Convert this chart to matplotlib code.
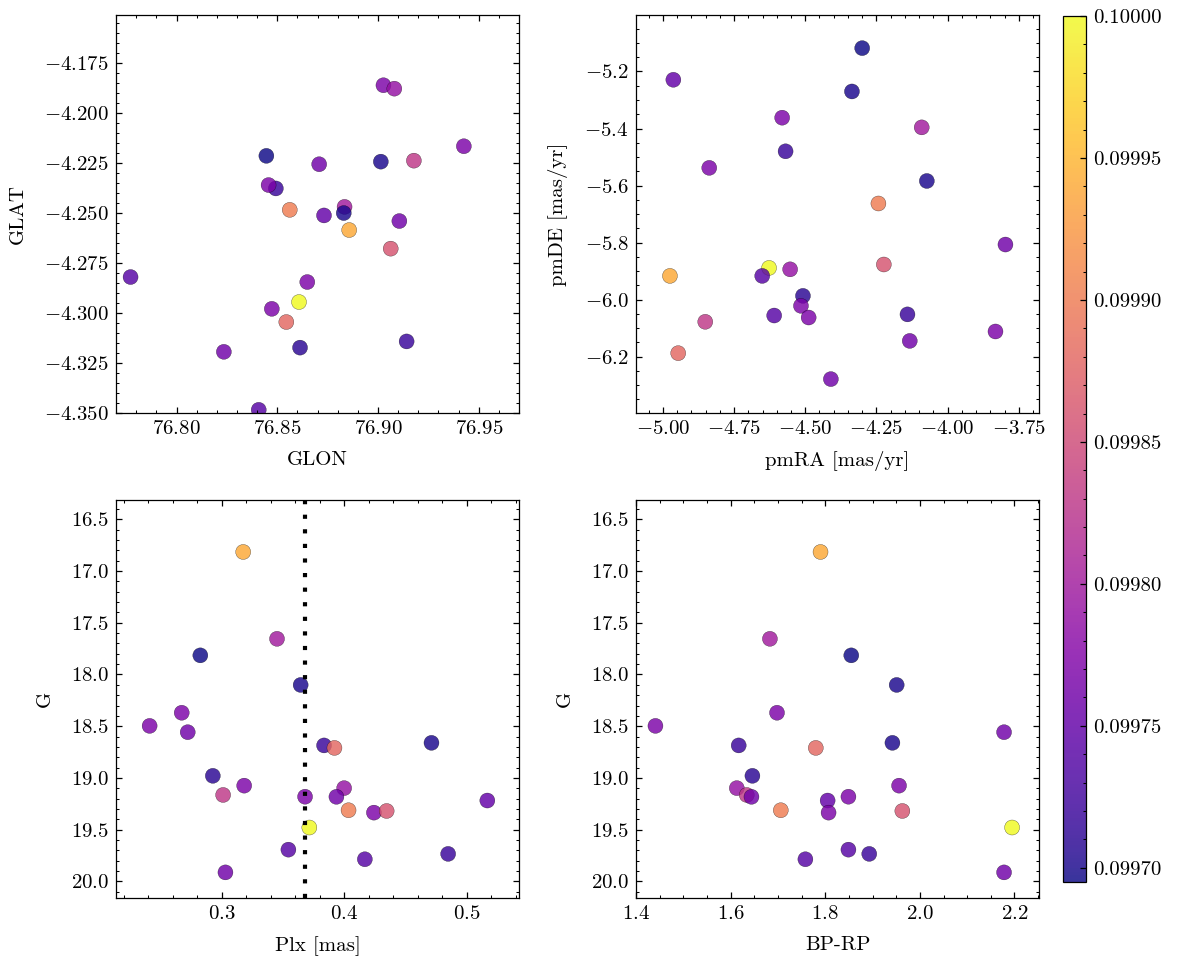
import numpy as np
import matplotlib
matplotlib.use('Agg')
import matplotlib.pyplot as plt
from matplotlib.ticker import MultipleLocator, AutoMinorLocator, FormatStrFormatter

# Member stars (one entry per star)
glon = [76.8857, 76.8834, 76.8446, 76.9014, 76.9027, 76.9426, 76.8708, 76.8493, 76.8545,
        76.8830, 76.8613, 76.8457, 76.9081, 76.9178, 76.9106, 76.8649, 76.8732, 76.8562,
        76.8473, 76.9063, 76.8608, 76.8408, 76.9142, 76.7772, 76.8235]
glat = [-4.2585, -4.2469, -4.2214, -4.2243, -4.1861, -4.2166, -4.2256, -4.2377, -4.3045,
        -4.2500, -4.3173, -4.2360, -4.1878, -4.2238, -4.2540, -4.2845, -4.2512, -4.2484,
        -4.2979, -4.2678, -4.2945, -4.3484, -4.3142, -4.2820, -4.3194]
pmra = [-4.975, -4.091, -4.300, -4.336, -4.581, -4.837, -3.797, -4.569, -4.946,
        -4.073, -4.508, -4.515, -4.553, -4.851, -4.410, -4.488, -4.963, -4.243,
        -3.832, -4.224, -4.627, -4.651, -4.141, -4.609, -4.133]
pmde = [-5.917, -5.396, -5.118, -5.270, -5.362, -5.538, -5.807, -5.480, -6.188,
        -5.584, -5.987, -6.022, -5.894, -6.078, -6.279, -6.063, -5.229, -5.663,
        -6.112, -5.877, -5.889, -5.917, -6.052, -6.056, -6.145]
plx = [0.3175, 0.3451, 0.2825, 0.3644, 0.2673, 0.2411, 0.2722, 0.3835, 0.3920,
       0.4712, 0.2927, 0.3183, 0.3999, 0.3011, 0.3936, 0.3680, 0.5168, 0.4035,
       0.4242, 0.4346, 0.3715, 0.3544, 0.4848, 0.4168, 0.3030]
gmag = [16.815, 17.655, 17.815, 18.101, 18.370, 18.497, 18.558, 18.686, 18.710,
        18.661, 18.980, 19.075, 19.099, 19.165, 19.183, 19.182, 19.219, 19.313,
        19.336, 19.320, 19.480, 19.694, 19.735, 19.787, 19.914]
bprp = [1.790, 1.683, 1.855, 1.951, 1.698, 1.441, 2.178, 1.617, 1.780,
        1.942, 1.646, 1.956, 1.613, 1.634, 1.644, 1.849, 1.805, 1.706,
        1.807, 1.963, 2.195, 1.849, 1.893, 1.758, 2.178]
prob = [0.09994, 0.09980, 0.099695, 0.09970, 0.09977, 0.09977, 0.09976, 0.09972, 0.09988,
        0.09970, 0.09971, 0.09977, 0.09979, 0.09983, 0.09976, 0.09977, 0.09975, 0.09990,
        0.09977, 0.09986, 0.10000, 0.09974, 0.09972, 0.09974, 0.09976]

plx_cut = 0.368

plt.rcParams.update({
    'font.family': 'serif',
    'font.serif': ['cmr10'],
    'mathtext.fontset': 'cm',
    'axes.formatter.use_mathtext': True,
    'font.size': 10,
    'axes.linewidth': 0.6,
    'axes.labelpad': 6,
    'xtick.direction': 'in',
    'ytick.direction': 'in',
    'xtick.top': True,
    'ytick.right': True,
    'xtick.major.size': 3,
    'ytick.major.size': 3,
    'xtick.minor.size': 1.5,
    'ytick.minor.size': 1.5,
    'xtick.major.width': 0.6,
    'ytick.major.width': 0.6,
    'xtick.minor.width': 0.5,
    'ytick.minor.width': 0.5,
    'xtick.minor.visible': True,
    'ytick.minor.visible': True,
})

fig = plt.figure(figsize=(1177 / 150, 965 / 150), dpi=150)
w, h = 0.3424, 0.4124
ax1 = fig.add_axes([0.0986, 0.5720, w, h])
ax2 = fig.add_axes([0.5404, 0.5720, w, h])
ax3 = fig.add_axes([0.0986, 0.0694, w, h])
ax4 = fig.add_axes([0.5404, 0.0694, w, h])
cax = fig.add_axes([0.9031, 0.0860, 0.0195, 0.8974])

kw = dict(c=prob, cmap='plasma', s=52, alpha=0.82, edgecolors='k', linewidths=0.15)

sc = ax1.scatter(glon, glat, **kw)
ax1.set_xlim(76.77, 76.97)
ax1.set_ylim(-4.35, -4.151)
ax1.xaxis.set_major_locator(MultipleLocator(0.05))
ax1.yaxis.set_major_locator(MultipleLocator(0.025))
ax1.set_xlabel('GLON')
ax1.set_ylabel('GLAT', labelpad=8)

ax2.scatter(pmra, pmde, **kw)
ax2.set_xlim(-5.094, -3.679)
ax2.set_ylim(-6.398, -5.002)
ax2.xaxis.set_major_locator(MultipleLocator(0.25))
ax2.yaxis.set_major_locator(MultipleLocator(0.2))
ax2.set_xlabel('pmRA [mas/yr]')
ax2.set_ylabel('pmDE [mas/yr]', labelpad=8)

ax3.scatter(plx, gmag, **kw)
ax3.axvline(plx_cut, color='k', linestyle=(0, (1, 2.5)), linewidth=2)
ax3.set_xlim(0.2137, 0.5427)
ax3.set_ylim(20.162, 16.313)
ax3.xaxis.set_major_locator(MultipleLocator(0.1))
ax3.yaxis.set_major_locator(MultipleLocator(0.5))
ax3.set_xlabel('Plx [mas]')
ax3.set_ylabel('G', labelpad=8)

ax4.scatter(bprp, gmag, **kw)
ax4.set_xlim(1.4, 2.252)
ax4.set_ylim(20.162, 16.313)
ax4.xaxis.set_major_locator(MultipleLocator(0.2))
ax4.yaxis.set_major_locator(MultipleLocator(0.5))
ax4.set_xlabel('BP-RP')
ax4.set_ylabel('G', labelpad=8)

for ax in (ax1, ax2, ax3, ax4):
    ax.xaxis.set_minor_locator(AutoMinorLocator())
    ax.yaxis.set_minor_locator(AutoMinorLocator())

cb = fig.colorbar(sc, cax=cax)
cb.solids.set_alpha(0.82)
cb.outline.set_linewidth(0.6)
cb.ax.yaxis.set_major_locator(MultipleLocator(0.00005))
cb.ax.yaxis.set_minor_locator(AutoMinorLocator(5))
cb.ax.yaxis.set_major_formatter(FormatStrFormatter('%.5f'))
cb.ax.tick_params(which='both', direction='in')

fig.savefig('out.png', dpi=150)
